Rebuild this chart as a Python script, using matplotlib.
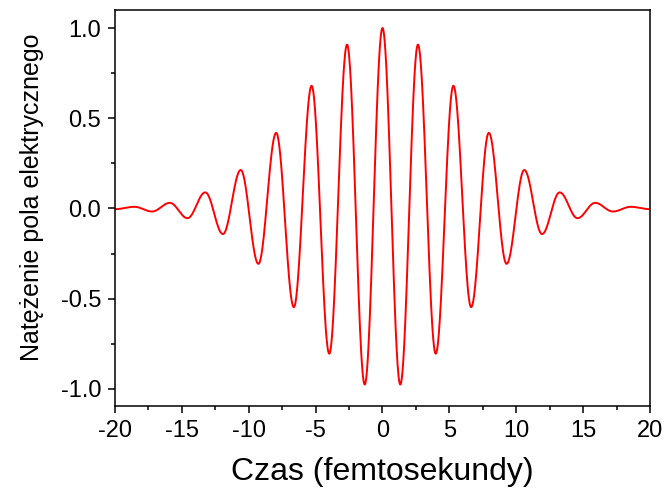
import numpy as np
import matplotlib.pyplot as plt
from matplotlib.ticker import MultipleLocator

plt.rcParams['font.family'] = ['Liberation Sans', 'DejaVu Sans']

# extrema of the pulse (time in fs, field amplitude)
pulse_t = [-20.0, -18.55, -17.23, -15.9, -14.58, -13.25, -11.93, -10.6, -9.28, -7.95,
           -6.63, -5.3, -3.98, -2.65, -1.33, 0.0, 1.33, 2.65, 3.98, 5.3,
           6.63, 7.95, 9.28, 10.6, 11.93, 13.25, 14.58, 15.9, 17.23, 18.55, 20.0]
pulse_e = [-0.004, 0.009, -0.017, 0.031, -0.054, 0.089, -0.142, 0.213, -0.307, 0.419,
           -0.547, 0.68, -0.805, 0.908, -0.976, 1.0, -0.976, 0.908, -0.805, 0.68,
           -0.547, 0.419, -0.307, 0.213, -0.142, 0.089, -0.054, 0.031, -0.017, 0.009, -0.004]

x_ticks = [-20, -15, -10, -5, 0, 5, 10, 15, 20]
y_ticks = [-1.0, -0.5, 0.0, 0.5, 1.0]


def trace(ts, es, n=60):
    # join neighbouring extrema with half-cosine arcs so the oscillation stays smooth
    xs, ys = [], []
    for i in range(len(ts) - 1):
        t0, t1, e0, e1 = ts[i], ts[i + 1], es[i], es[i + 1]
        s = np.linspace(0, 1, n, endpoint=False)
        xs.append(t0 + (t1 - t0) * s)
        ys.append((e0 + e1) / 2 + (e0 - e1) / 2 * np.cos(np.pi * s))
    xs.append([ts[-1]])
    ys.append([es[-1]])
    return np.concatenate(xs), np.concatenate(ys)


fig = plt.figure(figsize=(6.68, 4.92), dpi=100)
ax = fig.add_axes([0.1722, 0.1748, 0.8008, 0.8049])

t, e = trace(pulse_t, pulse_e)
ax.plot(t, e, color='#ff0000', lw=1.4)

ax.set_xlim(-20, 20)
ax.set_ylim(-1.095, 1.1)
ax.set_xticks(x_ticks)
ax.set_xticklabels([str(v) for v in x_ticks])
ax.set_yticks(y_ticks)
ax.set_yticklabels([f"{v:.1f}" for v in y_ticks])
ax.xaxis.set_minor_locator(MultipleLocator(2.5))
ax.yaxis.set_minor_locator(MultipleLocator(0.25))

for sp in ax.spines.values():
    sp.set_linewidth(1.1)
ax.tick_params(which='major', direction='out', length=5, width=1.1, labelsize=17, pad=5)
ax.tick_params(which='minor', direction='out', length=3, width=1.1)

ax.set_xlabel('Czas (femtosekundy)', fontsize=23, labelpad=11)
ax.set_ylabel('Natężenie pola elektrycznego', fontsize=18)
ax.yaxis.set_label_coords(-0.133, 0.528)

fig.savefig('out.png', dpi=100)
